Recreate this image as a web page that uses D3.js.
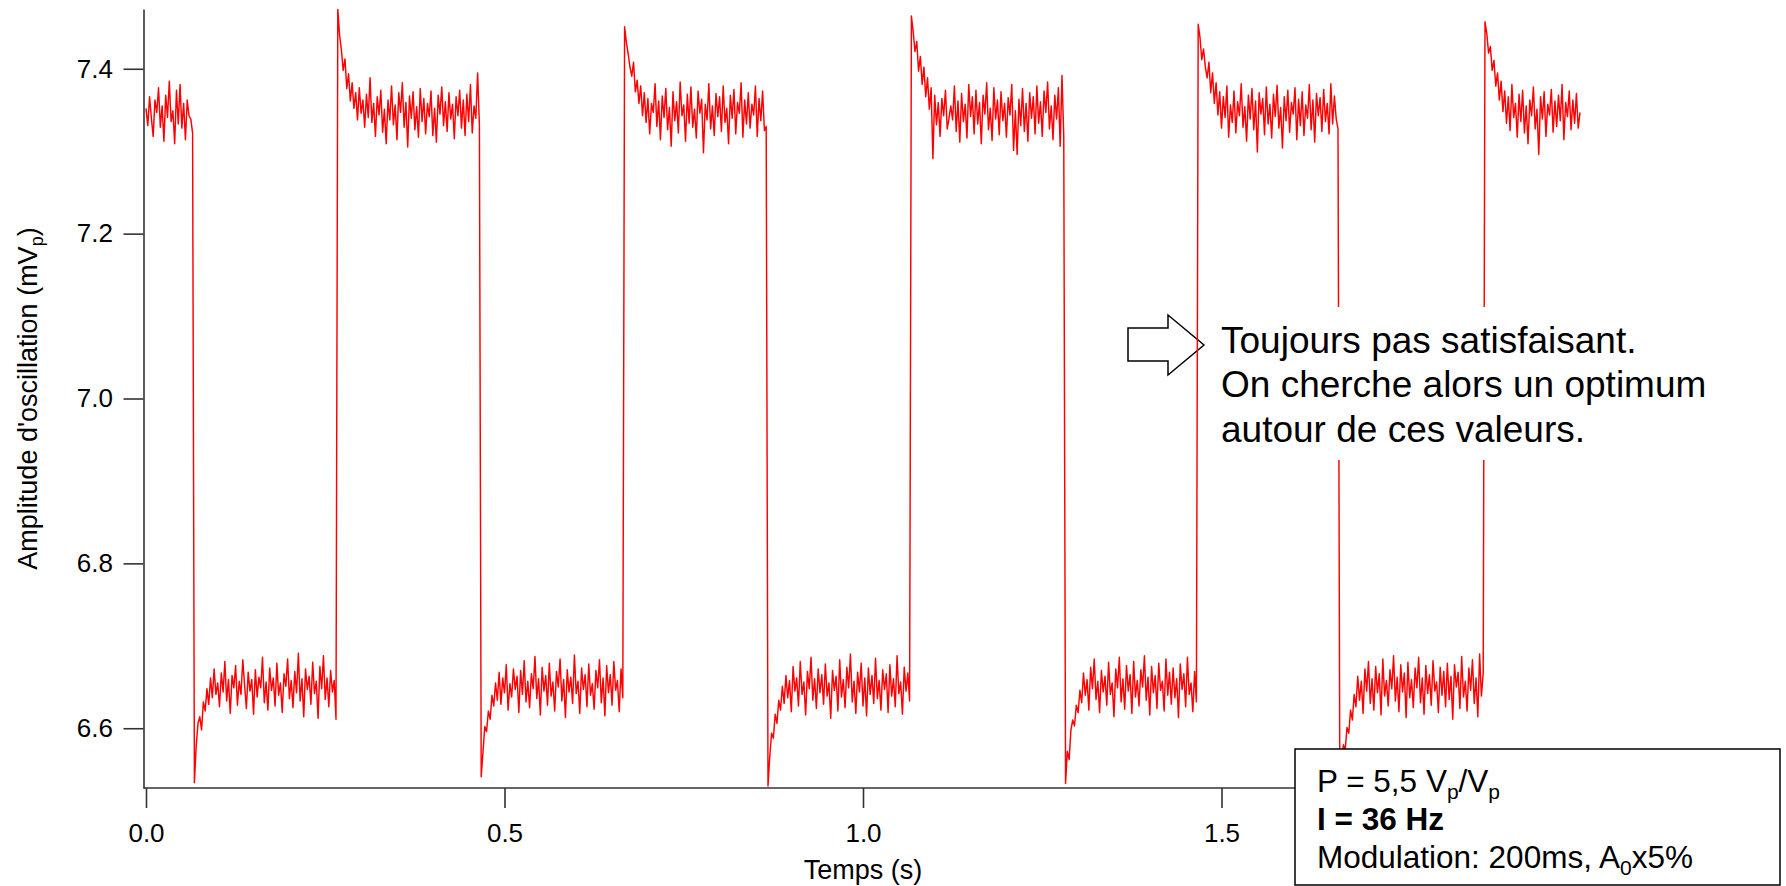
<!DOCTYPE html>
<html>
<head>
<meta charset="utf-8">
<script src="https://cdn.jsdelivr.net/npm/d3@7"></script>
<style>
  html, body { margin: 0; padding: 0; background: #fff; }
  svg { display: block; font-family: "Liberation Sans", Arial, Helvetica, sans-serif; }
</style>
</head>
<body>
<svg id="chart" width="1786" height="886"></svg>
<script>
// ---------------- DATA ----------------
const sampleStep = 0.0025; // s between samples
const segmentStart = [0, 0.0675, 0.2675, 0.4675, 0.6675, 0.8675, 1.0675, 1.2825, 1.4675, 1.665, 1.8675];

const high0 = [7.352,7.331,7.366,7.340,7.318,7.362,7.347,7.377,7.329,7.355,7.312,7.368,7.341,7.385,7.336,7.349,7.309,7.374,7.333,7.381,7.328,7.358,7.314,7.362,7.343,7.339,7.322];
const low1 = [6.534,6.578,6.606,6.614,6.598,6.632,6.621,6.648,6.629,6.661,
  6.637,6.672,6.641,6.655,6.626,6.667,6.644,6.681,6.633,6.659,
  6.618,6.664,6.649,6.676,6.628,6.657,6.641,6.683,6.652,6.624,
  6.668,6.645,6.659,6.617,6.671,6.638,6.662,6.649,6.686,6.631,
  6.656,6.622,6.673,6.646,6.661,6.627,6.679,6.640,6.655,6.619,
  6.666,6.651,6.684,6.636,6.658,6.625,6.669,6.643,6.691,6.633,
  6.660,6.614,6.672,6.647,6.663,6.629,6.680,6.642,6.657,6.612,
  6.675,6.648,6.688,6.635,6.661,6.626,6.670,6.644,6.658,6.611];
const high1 = [7.472,7.441,7.423,7.398,7.412,7.376,7.394,7.361,7.383,7.352,
  7.371,7.338,7.377,7.346,7.362,7.329,7.369,7.341,7.389,7.335,
  7.358,7.318,7.366,7.344,7.374,7.323,7.351,7.309,7.362,7.338,
  7.379,7.332,7.356,7.314,7.371,7.347,7.383,7.329,7.359,7.305,
  7.367,7.340,7.372,7.326,7.354,7.317,7.376,7.336,7.364,7.321,
  7.358,7.342,7.373,7.319,7.352,7.311,7.368,7.345,7.378,7.331,
  7.360,7.324,7.371,7.339,7.357,7.315,7.366,7.343,7.374,7.328,
  7.362,7.319,7.369,7.336,7.381,7.322,7.355,7.340,7.395,7.332];
const low2 = [6.541,6.571,6.602,6.596,6.621,6.611,6.640,6.627,6.655,6.634,
  6.668,6.629,6.661,6.643,6.677,6.622,6.654,6.638,6.672,6.647,
  6.663,6.619,6.670,6.641,6.682,6.632,6.657,6.625,6.666,6.648,
  6.687,6.636,6.660,6.616,6.674,6.645,6.664,6.628,6.679,6.639,
  6.656,6.621,6.669,6.650,6.684,6.633,6.659,6.613,6.671,6.644,
  6.662,6.630,6.689,6.642,6.657,6.618,6.673,6.647,6.665,6.626,
  6.678,6.640,6.654,6.623,6.670,6.649,6.683,6.631,6.661,6.615,
  6.676,6.643,6.665,6.628,6.681,6.646,6.658,6.620,6.672,6.637];
const high2 = [7.451,7.432,7.418,7.402,7.391,7.408,7.372,7.386,7.358,7.379,
  7.343,7.371,7.335,7.364,7.321,7.358,7.347,7.382,7.330,7.361,
  7.314,7.367,7.341,7.376,7.326,7.353,7.306,7.372,7.337,7.360,
  7.322,7.384,7.343,7.356,7.312,7.369,7.334,7.378,7.329,7.351,
  7.316,7.373,7.346,7.363,7.298,7.357,7.338,7.382,7.327,7.355,
  7.319,7.370,7.342,7.366,7.324,7.379,7.335,7.352,7.309,7.368,
  7.340,7.375,7.321,7.359,7.346,7.383,7.317,7.362,7.333,7.371,
  7.328,7.357,7.344,7.379,7.318,7.364,7.337,7.373,7.325,7.330];
const low3 = [6.530,6.566,6.594,6.588,6.617,6.606,6.634,6.622,6.651,6.630,
  6.664,6.637,6.658,6.620,6.675,6.645,6.661,6.627,6.681,6.641,
  6.656,6.616,6.669,6.648,6.686,6.634,6.660,6.624,6.672,6.643,
  6.665,6.629,6.678,6.639,6.655,6.612,6.670,6.646,6.663,6.621,
  6.683,6.638,6.659,6.625,6.674,6.649,6.690,6.632,6.657,6.618,
  6.668,6.644,6.679,6.627,6.661,6.615,6.673,6.641,6.664,6.630,
  6.685,6.636,6.658,6.622,6.671,6.647,6.666,6.619,6.677,6.639,
  6.660,6.626,6.688,6.642,6.656,6.617,6.674,6.645,6.667,6.633];
const high3 = [7.464,7.445,7.421,7.433,7.397,7.415,7.381,7.402,7.366,7.389,
  7.351,7.377,7.291,7.368,7.332,7.359,7.318,7.364,7.343,7.374,
  7.327,7.340,7.355,7.338,7.379,7.324,7.361,7.311,7.370,7.336,
  7.357,7.316,7.381,7.342,7.366,7.321,7.374,7.333,7.359,7.309,
  7.368,7.345,7.383,7.326,7.352,7.313,7.377,7.339,7.362,7.320,
  7.372,7.337,7.358,7.317,7.365,7.344,7.381,7.301,7.349,7.296,
  7.363,7.331,7.376,7.324,7.358,7.312,7.371,7.340,7.366,7.321,
  7.379,7.334,7.360,7.318,7.373,7.347,7.384,7.327,7.355,7.314,
  7.368,7.339,7.377,7.306,7.392,7.318];
const low4 = [6.533,6.572,6.562,6.598,6.610,6.603,6.628,6.619,6.646,6.631,
  6.667,6.640,6.659,6.622,6.674,6.648,6.684,6.635,6.657,6.619,
  6.670,6.644,6.663,6.628,6.680,6.641,6.655,6.614,6.672,6.649,
  6.686,6.632,6.660,6.623,6.676,6.645,6.665,6.618,6.681,6.638,
  6.658,6.627,6.671,6.650,6.688,6.634,6.662,6.616,6.675,6.643,
  6.664,6.624,6.679,6.646,6.657,6.621,6.684,6.640,6.668,6.629,
  6.673,6.637,6.660,6.613,6.678,6.647,6.666,6.626,6.686,6.641,
  6.655,6.620,6.669,6.632];
const high4 = [7.454,7.438,7.411,7.424,7.402,7.389,7.408,7.371,7.395,7.358,
  7.383,7.344,7.372,7.328,7.366,7.341,7.379,7.317,7.356,7.335,
  7.373,7.322,7.360,7.343,7.382,7.329,7.354,7.312,7.368,7.339,
  7.376,7.326,7.361,7.299,7.371,7.345,7.364,7.320,7.378,7.333,
  7.357,7.316,7.369,7.342,7.380,7.328,7.353,7.304,7.366,7.337,
  7.374,7.323,7.359,7.345,7.377,7.314,7.363,7.331,7.372,7.319,
  7.356,7.340,7.381,7.326,7.362,7.311,7.370,7.343,7.365,7.324,
  7.375,7.336,7.358,7.321,7.382,7.333,7.367,7.339,7.327];
const low5 = [6.536,6.558,6.580,6.573,6.601,6.594,6.622,6.610,6.641,6.626,
  6.663,6.634,6.657,6.618,6.672,6.645,6.681,6.630,6.660,6.622,
  6.675,6.643,6.666,6.616,6.684,6.639,6.658,6.627,6.671,6.648,
  6.688,6.633,6.662,6.620,6.677,6.644,6.667,6.613,6.680,6.637,
  6.659,6.625,6.673,6.649,6.686,6.631,6.661,6.617,6.676,6.642,
  6.665,6.628,6.682,6.645,6.656,6.619,6.674,6.640,6.669,6.626,
  6.679,6.635,6.663,6.611,6.677,6.650,6.668,6.624,6.687,6.638,
  6.657,6.621,6.673,6.646,6.683,6.630,6.661,6.614,6.690,6.639,6.667];
const high5 = [7.457,7.443,7.419,7.427,7.398,7.410,7.379,7.395,7.362,7.385,
  7.348,7.373,7.334,7.366,7.325,7.381,7.341,7.358,7.317,7.369,
  7.336,7.374,7.322,7.355,7.309,7.362,7.343,7.378,7.327,7.351,
  7.296,7.366,7.339,7.372,7.318,7.357,7.344,7.375,7.323,7.361,
  7.330,7.368,7.337,7.381,7.314,7.359,7.342,7.373,7.326,7.362,
  7.334,7.370,7.328,7.347];

const segmentValues = [high0, low1, high1, low2, high2, low3, high3, low4, high4, low5, high5];

const xDomain = [0, 2];
const yDomain = [6.5275, 7.4725];
const xTicks = [0, 0.5, 1.0, 1.5];   // the 2.0 tick lies under the info box
const yTicks = [6.6, 6.8, 7.0, 7.2, 7.4];

const xTitle = "Temps (s)";
const noteLines = ["Toujours pas satisfaisant.", "On cherche alors un optimum", "autour de ces valeurs."];

// ---------------- DRAW ----------------
const svg = d3.select("#chart");
const W = 1786, H = 886;
svg.append("rect").attr("width", W).attr("height", H).attr("fill", "#fff");

const x = d3.scaleLinear().domain(xDomain).range([146, 1580]);
const y = d3.scaleLinear().domain(yDomain).range([788, 9]);

const points = segmentValues.flatMap((vals, s) =>
  vals.map((v, k) => ({ t: segmentStart[s] + k * sampleStep, v })));

// arrow (under the trace)
const arrow = [[1128, 328], [1168, 328], [1168, 315], [1204, 345], [1168, 375], [1168, 361], [1128, 361]];
svg.append("path")
  .attr("d", "M" + arrow.map(p => p.join(",")).join("L") + "Z")
  .attr("fill", "#fff").attr("stroke", "#000").attr("stroke-width", 1.5)
  .attr("stroke-linejoin", "miter");

// trace
const line = d3.line().x(d => x(d.t)).y(d => y(d.v));
svg.append("path")
  .datum(points)
  .attr("d", line)
  .attr("fill", "none")
  .attr("stroke", "#ff0000")
  .attr("stroke-width", 1.45)
  .attr("stroke-linejoin", "round");

// axes
const axisColor = "#333";
const yAxisX = x(0) - 2.5;
const yAxis = d3.axisLeft(y).tickValues(yTicks).tickFormat(d3.format(".1f"))
  .tickSize(20).tickSizeOuter(0).tickPadding(10.5);
const gy = svg.append("g").attr("transform", `translate(${yAxisX},0)`).call(yAxis);

const xAxis = d3.axisBottom(x).tickValues(xTicks).tickFormat(d3.format(".1f"))
  .tickSize(20).tickSizeOuter(0).tickPadding(16);
const gx = svg.append("g").attr("transform", `translate(0,${y.range()[0]})`).call(xAxis);
gx.select(".domain").remove();
svg.append("line")
  .attr("x1", yAxisX).attr("x2", x(xDomain[1]) + 2)
  .attr("y1", y.range()[0]).attr("y2", y.range()[0])
  .attr("stroke", axisColor).attr("stroke-width", 1.6);

[gx, gy].forEach(g => {
  g.selectAll(".domain").attr("stroke", axisColor).attr("stroke-width", 1.6);
  g.selectAll(".tick line").attr("stroke", axisColor).attr("stroke-width", 1.6);
  g.selectAll(".tick text").attr("fill", "#000")
    .style("font-size", "26px")
    .style("font-family", '"Liberation Sans", Arial, Helvetica, sans-serif');
});

// axis titles
svg.append("text")
  .attr("x", (x.range()[0] + x.range()[1]) / 2).attr("y", 879)
  .attr("text-anchor", "middle").style("font-size", "27px").text(xTitle);

const yt = svg.append("text")
  .attr("transform", `translate(37,${(y.range()[0] + y.range()[1]) / 2}) rotate(-90)`)
  .attr("text-anchor", "middle").style("font-size", "27px");
yt.append("tspan").text("Amplitude d'oscillation (mV");
yt.append("tspan").attr("dy", 6).style("font-size", "18px").text("p");
yt.append("tspan").attr("dy", -6).text(")");

// annotation with white background
svg.append("rect").attr("x", 1214).attr("y", 307).attr("width", 500).attr("height", 153).attr("fill", "#fff");
noteLines.forEach((t, i) => {
  svg.append("text").attr("x", 1221).attr("y", 353 + i * 44.3)
    .style("font-size", "37px").attr("fill", "#000").text(t);
});

// info box
svg.append("rect").attr("x", 1295).attr("y", 749).attr("width", 485).attr("height", 136)
  .attr("fill", "#fff").attr("stroke", "#000").attr("stroke-width", 1.5);
const bx = 1317, fs = 31.5;
const t1 = svg.append("text").attr("x", bx).attr("y", 792).style("font-size", fs + "px");
t1.append("tspan").text("P = 5,5 V");
t1.append("tspan").attr("dy", 7).style("font-size", "21px").text("p");
t1.append("tspan").attr("dy", -7).text("/V");
t1.append("tspan").attr("dy", 7).style("font-size", "21px").text("p");
svg.append("text").attr("x", bx).attr("y", 830).style("font-size", fs + "px")
  .style("font-weight", "bold").text("I = 36 Hz");
const t3 = svg.append("text").attr("x", bx).attr("y", 868).style("font-size", fs + "px");
t3.append("tspan").text("Modulation: 200ms, A");
t3.append("tspan").attr("dy", 7).style("font-size", "21px").text("0");
t3.append("tspan").attr("dy", -7).text("x5%");
</script>
</body>
</html>
